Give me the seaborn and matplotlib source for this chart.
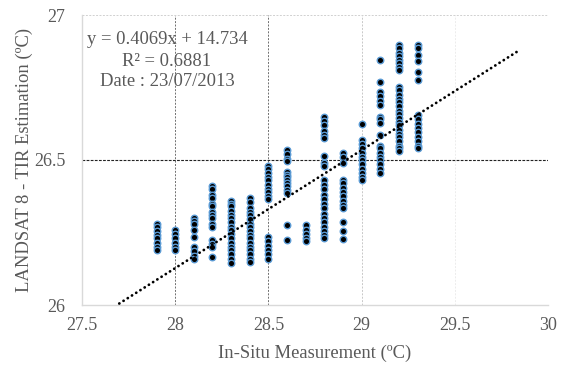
import matplotlib
matplotlib.use("Agg")
import matplotlib.pyplot as plt
import seaborn as sns
import numpy as np
import pandas as pd

# ---- data ----
insitu_x = [27.9, 28.0, 28.1, 28.2, 28.3, 28.4, 28.5, 28.6, 28.7, 28.8, 28.9, 29.0, 29.1, 29.2, 29.3]

y_279 = [26.28, 26.27, 26.255, 26.24, 26.23, 26.215, 26.20, 26.19]
y_280 = [26.26, 26.245, 26.23, 26.215, 26.20, 26.19]
y_281 = [26.30, 26.29, 26.28, 26.26, 26.235, 26.20, 26.185, 26.17, 26.16]
y_282 = [26.41, 26.40, 26.38, 26.37, 26.35, 26.34, 26.32, 26.31, 26.30, 26.28, 26.27,
         26.225, 26.21, 26.20, 26.165]
y_283 = [26.36, 26.35, 26.34, 26.325, 26.31, 26.30, 26.285, 26.27, 26.26, 26.245, 26.23,
         26.215, 26.20, 26.19, 26.175, 26.16, 26.145]
y_284 = [26.37, 26.355, 26.335, 26.32, 26.31, 26.295, 26.28, 26.27, 26.255, 26.24, 26.23,
         26.215, 26.20, 26.19, 26.175, 26.16, 26.15]
y_285 = [26.48, 26.47, 26.455, 26.44, 26.43, 26.415, 26.40, 26.39, 26.375, 26.365,
         26.235, 26.22, 26.205, 26.19, 26.175, 26.16]
y_286 = [26.535, 26.52, 26.505, 26.495, 26.46, 26.45, 26.44, 26.43, 26.42, 26.41, 26.395,
         26.385, 26.275, 26.225]
y_287 = [26.275, 26.26, 26.245, 26.23, 26.22]
y_288 = [26.65, 26.635, 26.62, 26.60, 26.585, 26.575, 26.515, 26.49, 26.478, 26.43, 26.415,
         26.40, 26.38, 26.365, 26.35, 26.335, 26.315, 26.30, 26.285, 26.27, 26.255, 26.24, 26.23]
y_289 = [26.525, 26.51, 26.49, 26.43, 26.42, 26.405, 26.39, 26.375, 26.36, 26.345, 26.335,
         26.287, 26.256, 26.228]
y_290 = [26.625, 26.57, 26.555, 26.54, 26.525, 26.51, 26.50, 26.485, 26.47, 26.455, 26.44, 26.43]
y_291 = [26.845, 26.77, 26.735, 26.72, 26.705, 26.69, 26.65, 26.64, 26.627, 26.585, 26.55,
         26.54, 26.525, 26.51, 26.50, 26.485, 26.47, 26.455]
y_292 = [26.897, 26.885, 26.87, 26.86, 26.845, 26.835, 26.82, 26.81, 26.753, 26.74, 26.725,
         26.71, 26.70, 26.685, 26.67, 26.66, 26.645, 26.63, 26.62, 26.605, 26.59, 26.58,
         26.565, 26.55, 26.54, 26.53]
y_293 = [26.897, 26.885, 26.862, 26.84, 26.805, 26.776, 26.655, 26.64, 26.625, 26.61, 26.595,
         26.58, 26.565, 26.55, 26.54]

trend_slope = 0.4069
trend_intercept = 14.734
trend_x_range = [27.7, 29.85]

annotation_lines = ["y = 0.4069x + 14.734", "R² = 0.6881", "Date : 23/07/2013"]
x_ticks = [27.5, 28, 28.5, 29, 29.5, 30]
x_tick_labels = ["27.5", "28", "28.5", "29", "29.5", "30"]
y_ticks = [26, 26.5, 27]
y_tick_labels = ["26", "26.5", "27"]
x_label = "In-Situ Measurement (ºC)"
y_label = "LANDSAT 8 - TIR Estimation (ºC)"

# ---- build table ----
columns = [y_279, y_280, y_281, y_282, y_283, y_284, y_285, y_286,
           y_287, y_288, y_289, y_290, y_291, y_292, y_293]
rows = []
for xv, ys in zip(insitu_x, columns):
    for yv in ys:
        rows.append((xv, yv))
df = pd.DataFrame(rows, columns=["insitu", "landsat"])

# ---- plot ----
sns.set_theme(style="white")
plt.rcParams["font.family"] = ["Liberation Serif", "DejaVu Serif"]

fig = plt.figure(figsize=(5.69, 3.65), dpi=100)
ax = fig.add_axes([82 / 569, 1 - 305 / 365, (548 - 82) / 569, (305 - 15) / 365])

# gridlines
gray_txt = "#595959"
ax.axvline(28.0, color="#6f6f6f", lw=0.7, ls=(0, (2, 1.5)), zorder=1)
ax.axvline(28.5, color="#6f6f6f", lw=0.7, ls=(0, (2, 1.5)), zorder=1)
ax.axvline(29.0, color="#c8c8c8", lw=0.7, ls=(0, (2, 1.5)), zorder=1)
ax.axvline(29.5, color="#ececec", lw=0.7, ls=(0, (2, 1.5)), zorder=1)
ax.axhline(27.0, color="#d0d0d0", lw=0.7, ls=(0, (2, 1.5)), zorder=1)
ax.axhline(26.5, color="#222222", lw=0.8, ls=(0, (2.5, 1.2)), zorder=1)

sns.scatterplot(data=df, x="insitu", y="landsat", ax=ax, s=22, color="black",
                edgecolor="#5b9bd5", linewidth=1.0, zorder=3, legend=False)

tx = np.array(trend_x_range)
ty = trend_slope * tx + trend_intercept
ax.plot(tx, ty, color="black", lw=2.0, ls=(0, (0.05, 1.75)), dash_capstyle="round", zorder=4)

ax.set_xlim(27.5, 30)
ax.set_ylim(26, 27)
ax.set_xticks(x_ticks)
ax.set_xticklabels(x_tick_labels)
ax.set_yticks(y_ticks)
ax.set_yticklabels(y_tick_labels)
ax.tick_params(axis="both", length=0, labelsize=13, colors=gray_txt)
ax.tick_params(axis="x", pad=9)
ax.tick_params(axis="y", pad=12)
ax.set_xlabel(x_label, fontsize=13.4, color=gray_txt, labelpad=7)
ax.set_ylabel(y_label, fontsize=13.4, color=gray_txt, labelpad=1)

for side in ["top", "right"]:
    ax.spines[side].set_visible(False)
for side in ["left", "bottom"]:
    ax.spines[side].set_color("#d9d9d9")
    ax.spines[side].set_linewidth(1.0)
ax.grid(False)

# annotation block
cx = 167 / 569
for i, (txt, py) in enumerate(zip(annotation_lines, [40, 61, 82])):
    fig.text(cx, 1 - py / 365, txt, ha="center", va="center", fontsize=13.4, color=gray_txt)

fig.savefig("out.png", dpi=100)
